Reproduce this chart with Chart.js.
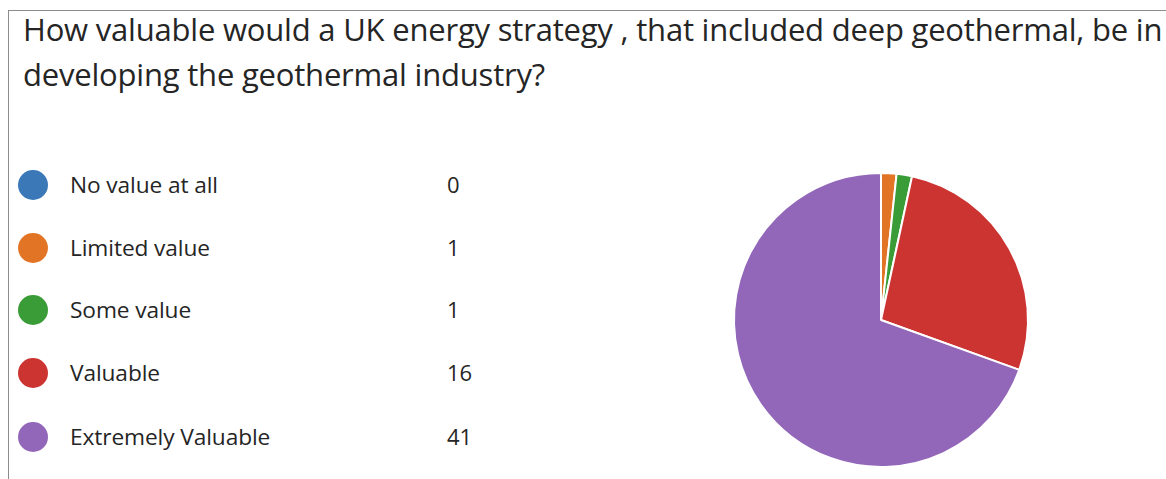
<!DOCTYPE html>
<html>
<head>
<meta charset="utf-8">
<script src="https://cdn.jsdelivr.net/npm/chart.js@4"></script>
<style>
  html, body { margin: 0; padding: 0; background: #fff; }
  body { width: 1166px; height: 479px; overflow: hidden; position: relative; font-family: "Open Sans", "Noto Sans", sans-serif; color: #252525; }
  #frame { position: absolute; left: 8px; top: 10px; width: 1200px; height: 480px; border-top: 1px solid #8c8c8c; border-left: 1px solid #8c8c8c; }
  #title { position: absolute; left: 23px; top: 7px; font-size: 31px; line-height: 45px; white-space: nowrap; letter-spacing: -0.2px; }
  #legend { position: absolute; left: 0; top: 0; }
  .row { position: absolute; left: 0; height: 40px; }
  .dot { position: absolute; left: 18px; width: 30px; height: 30px; border-radius: 50%; }
  .lab { position: absolute; left: 70px; font-size: 22.7px; white-space: nowrap; letter-spacing: -0.1px; }
  .val { position: absolute; left: 447px; font-size: 22px; }
  #c { position: absolute; left: 0; top: 0; }
</style>
</head>
<body>
<div id="frame"></div>
<div id="title">How valuable would a UK energy strategy , that included deep geothermal, be in<br>developing the geothermal industry?</div>
<div id="legend"></div>
<canvas id="c" width="1166" height="479"></canvas>
<script>
const categories = ["No value at all", "Limited value", "Some value", "Valuable", "Extremely Valuable"];
const responses = [0, 1, 1, 16, 41];
const sliceColors = ["#3a78b8", "#e27525", "#3a9c36", "#cc3432", "#9266b8"];

// legend rows: coloured dot, label, count
const legend = document.getElementById('legend');
const rowCentres = [185, 248, 310, 373, 437];
categories.forEach((name, i) => {
  const row = document.createElement('div');
  row.className = 'row';
  row.style.top = (rowCentres[i] - 20) + 'px';
  row.innerHTML =
    '<div class="dot" style="top:5px;background:' + sliceColors[i] + '"></div>' +
    '<div class="lab" style="top:4px">' + name + '</div>' +
    '<div class="val" style="top:4px">' + responses[i] + '</div>';
  legend.appendChild(row);
});

new Chart(document.getElementById('c'), {
  type: 'pie',
  data: {
    labels: categories,
    datasets: [{
      data: responses,
      backgroundColor: sliceColors,
      borderColor: '#ffffff',
      borderWidth: 2
    }]
  },
  options: {
    responsive: false,
    animation: false,
    layout: { padding: { left: 733, right: 137, top: 172, bottom: 11 } },
    plugins: {
      legend: { display: false },
      tooltip: { enabled: false },
      title: { display: false }
    }
  }
});
</script>
</body>
</html>
